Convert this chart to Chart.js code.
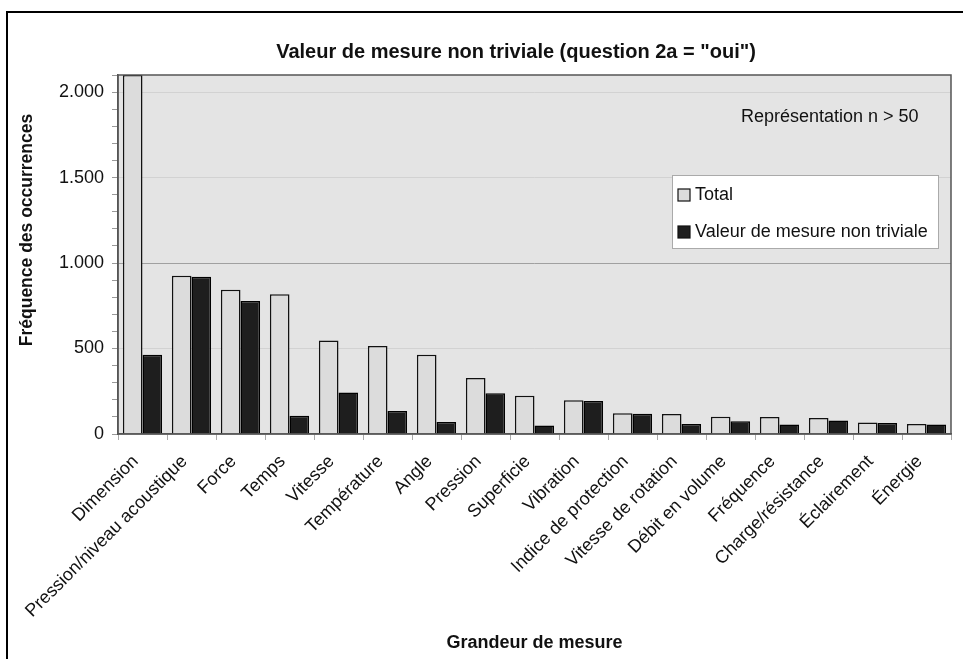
<!DOCTYPE html>
<html>
<head>
<meta charset="utf-8">
<script src="https://cdn.jsdelivr.net/npm/chart.js@4/dist/chart.umd.min.js"></script>
<style>
  html, body { margin: 0; padding: 0; background: #fff; }
  #wrap { width: 963px; height: 659px; }
</style>
</head>
<body>
<div id="wrap"><canvas id="chart" width="963" height="659"></canvas></div>
<script>
// données
const categories = ['Dimension', 'Pression/niveau acoustique', 'Force', 'Temps', 'Vitesse',
  'Température', 'Angle', 'Pression', 'Superficie', 'Vibration', 'Indice de protection',
  'Vitesse de rotation', 'Débit en volume', 'Fréquence', 'Charge/résistance', 'Éclairement', 'Énergie'];
const totalValues = [2100, 926, 844, 817, 547, 515, 463, 327, 224, 198, 122, 117, 101, 99, 93, 68, 58];
const nonTrivialValues = [463, 920, 778, 107, 243, 134, 70, 239, 50, 193, 118, 58, 74, 56, 79, 64, 56];
const yTickLabels = [0, 500, 1000, 1500, 2000];

const FONT = '"Liberation Sans", Arial, sans-serif';

function fmt(v) {
  return String(v).replace(/\B(?=(\d{3})+(?!\d))/g, '.');
}

// fond, cadre, légende et textes
const decor = {
  id: 'decor',
  beforeDraw(chart) {
    const c = chart.ctx, a = chart.chartArea;
    c.save();
    c.fillStyle = '#fff';
    c.fillRect(0, 0, chart.width, chart.height);
    c.fillStyle = '#e4e4e4';
    c.fillRect(a.left, a.top, a.right - a.left, a.bottom - a.top);
    c.strokeStyle = '#000';
    c.lineWidth = 2;
    c.beginPath();
    c.moveTo(7, chart.height);
    c.lineTo(7, 12);
    c.lineTo(chart.width, 12);
    c.stroke();
    c.restore();
  },
  afterDraw(chart) {
    const c = chart.ctx, a = chart.chartArea;
    c.save();
    c.strokeStyle = '#555';
    c.lineWidth = 1.5;
    c.strokeRect(a.left, a.top, a.right - a.left, a.bottom - a.top);

    c.fillStyle = '#111';
    c.font = 'bold 20px ' + FONT;
    c.textAlign = 'center';
    c.textBaseline = 'middle';
    c.fillText('Valeur de mesure non triviale (question 2a = "oui")', 516, 52);

    c.save();
    c.translate(27, 230);
    c.rotate(-Math.PI / 2);
    c.font = 'bold 17.5px ' + FONT;
    c.fillText('Fréquence des occurrences', 0, 0);
    c.restore();

    c.font = '18px ' + FONT;
    c.textAlign = 'left';
    c.fillText('Représentation n > 50', 741, 117);

    // légende
    const lx = 672, ly = 175, lw = 266, lh = 73;
    c.fillStyle = '#fff';
    c.fillRect(lx, ly, lw, lh);
    c.strokeStyle = '#aaa';
    c.lineWidth = 1;
    c.strokeRect(lx + 0.5, ly + 0.5, lw, lh);
    chart.data.datasets.forEach((ds, i) => {
      const y = 195 + i * 37;
      c.fillStyle = ds.backgroundColor;
      c.fillRect(678, y - 6, 12, 12);
      c.strokeStyle = '#111';
      c.lineWidth = 1.2;
      c.strokeRect(678, y - 6, 12, 12);
      c.fillStyle = '#111';
      c.font = '18px ' + FONT;
      c.fillText(ds.label, 695, y);
    });
    c.restore();
  }
};

new Chart(document.getElementById('chart'), {
  type: 'bar',
  data: {
    labels: categories,
    datasets: [{
      label: 'Total',
      data: totalValues,
      backgroundColor: '#dcdcdc',
      borderColor: '#111',
      borderWidth: 1.5
    }, {
      label: 'Valeur de mesure non triviale',
      data: nonTrivialValues,
      backgroundColor: '#1e1e1e',
      borderColor: '#000',
      borderWidth: 1.5
    }]
  },
  options: {
    responsive: false,
    animation: false,
    layout: { padding: { left: 10, top: 75, right: 12, bottom: 0 } },
    datasets: { bar: { categoryPercentage: 0.8, barPercentage: 1.0 } },
    plugins: {
      legend: { display: false },
      title: { display: false },
      tooltip: { enabled: false }
    },
    scales: {
      x: {
        afterFit(s) { s.height = 225; },
        grid: { offset: true, drawOnChartArea: false, color: '#aaa', tickLength: 6 },
        border: { color: '#555', width: 1.5 },
        ticks: {
          autoSkip: false, maxRotation: 45, minRotation: 45,
          padding: 11, labelOffset: -7,
          color: '#111', font: { family: FONT, size: 18 }
        },
        title: {
          display: true, text: 'Grandeur de mesure', color: '#111',
          font: { family: FONT, size: 18, weight: 'bold' },
          padding: { top: 0, bottom: 5 }
        }
      },
      y: {
        min: 0, max: 2100,
        afterFit(s) { s.width = 108; },
        border: { color: '#555', width: 1.5 },
        grid: {
          color: (ctx) => {
            const v = ctx.tick ? ctx.tick.value : null;
            if (v === 1000) return '#a0a0a0';
            if (v > 0 && yTickLabels.includes(v)) return '#d2d2d2';
            return 'rgba(0,0,0,0)';
          },
          tickColor: '#999',
          tickLength: 6
        },
        ticks: {
          stepSize: 100, autoSkip: false, padding: 8,
          color: '#111', font: { family: FONT, size: 18 },
          callback: (v) => yTickLabels.includes(v) ? fmt(v) : ''
        }
      }
    }
  },
  plugins: [decor]
});
</script>
</body>
</html>
